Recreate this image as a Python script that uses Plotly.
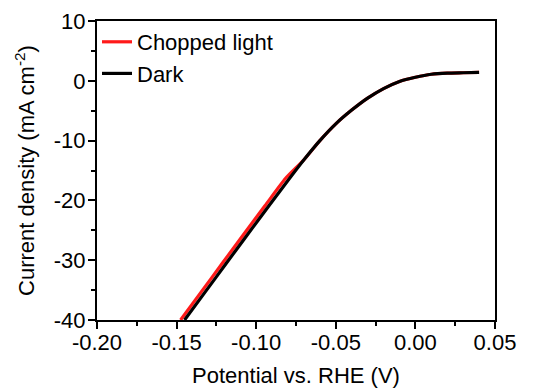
import plotly.graph_objects as go

# Linear sweep voltammetry, potential (V vs. RHE) and current density (mA cm^-2)
dark_potential = [-0.145, -0.132, -0.119, -0.106, -0.092, -0.079, -0.070, -0.060,
                  -0.050, -0.040, -0.030, -0.020, -0.010, 0.000, 0.010, 0.020,
                  0.030, 0.040]
dark_current = [-40.0, -35.3, -30.6, -25.9, -20.9, -16.3, -13.2, -10.0,
                -7.2, -4.9, -2.9, -1.3, -0.1, 0.6, 1.1, 1.3, 1.35, 1.4]

light_potential = [-0.1475, -0.1345, -0.1215, -0.1085, -0.0945, -0.0815,
                   -0.070, -0.060, -0.050, -0.040, -0.030, -0.020, -0.010,
                   0.000, 0.010, 0.020, 0.030, 0.040]
light_current = [-40.0, -35.3, -30.6, -25.9, -20.9, -16.3,
                 -13.2, -10.0, -7.2, -4.9, -2.9, -1.3, -0.1,
                 0.6, 1.1, 1.3, 1.35, 1.4]

x_ticks = [-0.20, -0.15, -0.10, -0.05, 0.00, 0.05]
x_labels = ["-0.20", "-0.15", "-0.10", "-0.05", "0.00", "0.05"]
y_ticks = [-40, -30, -20, -10, 0, 10]
y_labels = ["-40", "-30", "-20", "-10", "0", "10"]

FONT = "Liberation Sans, Arial, sans-serif"

fig = go.Figure()
fig.add_trace(go.Scatter(x=light_potential, y=light_current, mode="lines",
                         name="Chopped light",
                         line=dict(color="#ff1a1a", width=3.2,
                                   shape="spline", smoothing=0.6)))
fig.add_trace(go.Scatter(x=dark_potential, y=dark_current, mode="lines",
                         name="Dark",
                         line=dict(color="#000000", width=3.2,
                                   shape="spline", smoothing=0.6)))

axis_common = dict(
    showline=True, linecolor="black", linewidth=2, mirror=True,
    ticks="outside", ticklen=7, tickwidth=2, tickcolor="black",
    showgrid=False, zeroline=False, automargin=False,
    tickfont=dict(family=FONT, size=22, color="black"),
)

fig.update_xaxes(
    range=[-0.20, 0.05], tickvals=x_ticks, ticktext=x_labels,
    ticklabelstandoff=-5,
    minor=dict(dtick=0.025, ticks="outside", ticklen=4, tickwidth=2,
               tickcolor="black", showgrid=False),
    title=dict(text="Potential vs. RHE (V)", standoff=13,
               font=dict(family=FONT, size=22, color="black")),
    **axis_common,
)
fig.update_yaxes(
    range=[-40, 10], tickvals=y_ticks, ticktext=y_labels,
    ticklabelstandoff=-2,
    minor=dict(dtick=5, ticks="outside", ticklen=4, tickwidth=2,
               tickcolor="black", showgrid=False),
    title=dict(text="Current density (mA cm<sup>-2</sup>)", standoff=13,
               font=dict(family=FONT, size=22, color="black")),
    **axis_common,
)

fig.update_layout(
    width=533, height=392,
    margin=dict(l=97, r=38, t=21, b=72),
    paper_bgcolor="white", plot_bgcolor="white",
    showlegend=True,
    legend=dict(x=0.0, y=1.0, xanchor="left", yanchor="top",
                bgcolor="rgba(0,0,0,0)", borderwidth=0,
                font=dict(family=FONT, size=22, color="black"),
                tracegroupgap=0, itemwidth=30),
)

fig.write_html("out.html")
